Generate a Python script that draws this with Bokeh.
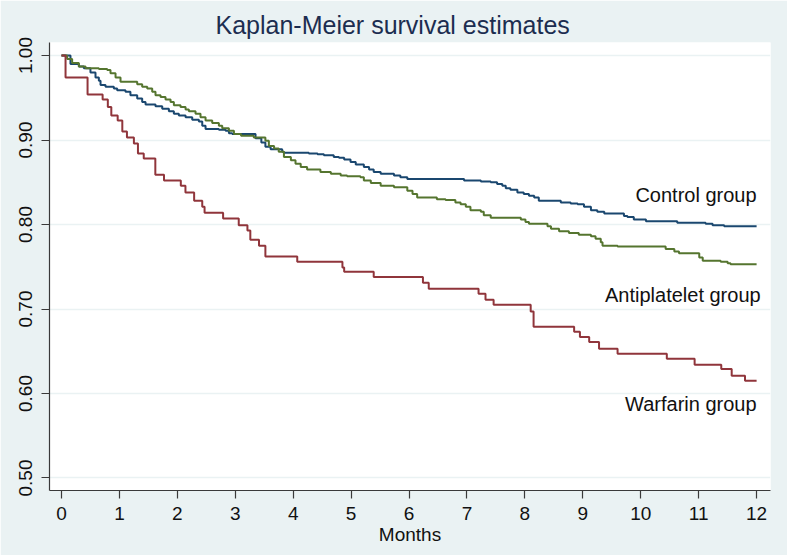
from bokeh.plotting import figure
from bokeh.models import FixedTicker, PrintfTickFormatter, Label
from bokeh.embed import file_html
from bokeh.resources import INLINE

# ---- data (Kaplan-Meier step estimates) ----
control_t = [0, 0.155, 0.30, 0.386, 0.50, 0.587, 0.645, 0.674, 0.76, 0.904,
             0.961, 1.105, 1.19, 1.307, 1.393, 1.451, 1.623, 1.739, 1.854, 1.94,
             2.026, 2.142, 2.257, 2.372, 2.43, 2.487, 2.717, 2.833, 2.89, 2.948,
             3.35, 3.45, 3.52, 3.61, 3.81, 3.84, 4.27, 4.42, 4.53, 4.70,
             4.79, 4.88, 4.99, 5.08, 5.22, 5.31, 5.39, 5.51, 5.74, 5.85,
             5.97, 6.95, 7.24, 7.41, 7.52, 7.61, 7.67, 7.75, 7.87, 7.98,
             8.07, 8.16, 8.24, 8.62, 8.79, 8.91, 9.02, 9.14, 9.25, 9.37,
             9.71, 9.77, 9.88, 10.09, 10.63, 11.12, 11.24, 11.44, 12.0]
control_s = [1.000, 0.990, 0.987, 0.985, 0.980, 0.974, 0.970, 0.965, 0.963, 0.961,
             0.959, 0.957, 0.953, 0.949, 0.945, 0.942, 0.940, 0.937, 0.934, 0.931,
             0.929, 0.927, 0.924, 0.922, 0.917, 0.913, 0.912, 0.911, 0.908, 0.907,
             0.902, 0.897, 0.892, 0.889, 0.886, 0.885, 0.884, 0.883, 0.882, 0.880,
             0.879, 0.877, 0.874, 0.871, 0.868, 0.865, 0.862, 0.860, 0.858, 0.856,
             0.854, 0.852, 0.851, 0.850, 0.848, 0.846, 0.843, 0.841, 0.838, 0.836,
             0.834, 0.832, 0.828, 0.826, 0.825, 0.824, 0.821, 0.817, 0.815, 0.813,
             0.810, 0.809, 0.806, 0.804, 0.802, 0.801, 0.799, 0.798, 0.798]

antiplatelet_t = [0, 0.098, 0.184, 0.30, 0.415, 0.645, 0.789, 0.846, 0.933, 1.019,
                  1.307, 1.393, 1.48, 1.566, 1.623, 1.71, 1.796, 1.883, 1.94, 2.055,
                  2.142, 2.199, 2.314, 2.40, 2.487, 2.602, 2.717, 2.775, 2.89, 2.977,
                  3.10, 3.32, 3.52, 3.58, 3.67, 3.75, 3.84, 3.96, 4.04, 4.13,
                  4.24, 4.47, 4.65, 4.82, 4.93, 5.16, 5.22, 5.34, 5.51, 5.74,
                  5.97, 6.06, 6.14, 6.48, 6.63, 6.80, 6.89, 6.98, 7.06, 7.24,
                  7.29, 7.41, 7.93, 8.01, 8.07, 8.39, 8.45, 8.59, 8.76, 8.93,
                  9.14, 9.22, 9.31, 9.34, 9.60, 10.43, 10.58, 10.66, 11.01, 11.07,
                  11.38, 11.50, 11.55, 12.0]
antiplatelet_s = [1.000, 0.996, 0.991, 0.987, 0.985, 0.984, 0.983, 0.979, 0.974, 0.969,
                  0.966, 0.963, 0.961, 0.957, 0.953, 0.951, 0.948, 0.945, 0.941, 0.939,
                  0.936, 0.934, 0.931, 0.927, 0.923, 0.920, 0.917, 0.914, 0.911, 0.907,
                  0.905, 0.903, 0.899, 0.893, 0.890, 0.886, 0.880, 0.876, 0.872, 0.868,
                  0.865, 0.862, 0.860, 0.858, 0.857, 0.856, 0.852, 0.849, 0.846, 0.844,
                  0.840, 0.836, 0.832, 0.830, 0.829, 0.826, 0.824, 0.821, 0.817, 0.815,
                  0.811, 0.808, 0.806, 0.803, 0.801, 0.798, 0.795, 0.792, 0.790, 0.788,
                  0.786, 0.783, 0.779, 0.775, 0.774, 0.771, 0.768, 0.766, 0.761, 0.757,
                  0.756, 0.754, 0.753, 0.753]

warfarin_t = [0, 0.07, 0.45, 0.71, 0.80, 0.86, 0.97, 1.05, 1.13, 1.25,
              1.32, 1.42, 1.62, 1.77, 2.06, 2.14, 2.29, 2.43, 2.47, 2.79,
              3.06, 3.21, 3.26, 3.41, 3.52, 4.07, 4.85, 4.88, 5.39, 6.24,
              6.34, 7.20, 7.32, 7.46, 8.10, 8.15, 8.85, 8.95, 9.11, 9.28,
              9.60, 10.45, 10.93, 11.39, 11.57, 11.80, 12.0]
warfarin_s = [1.000, 0.974, 0.954, 0.948, 0.939, 0.929, 0.923, 0.910, 0.903, 0.896,
              0.884, 0.878, 0.859, 0.852, 0.846, 0.838, 0.828, 0.821, 0.814, 0.807,
              0.799, 0.793, 0.782, 0.775, 0.762, 0.756, 0.749, 0.744, 0.738, 0.731,
              0.724, 0.718, 0.711, 0.705, 0.697, 0.679, 0.673, 0.667, 0.661, 0.653,
              0.647, 0.641, 0.634, 0.629, 0.621, 0.615, 0.615]

group_names = ["Control group", "Antiplatelet group", "Warfarin group"]
x_ticks = [0, 1, 2, 3, 4, 5, 6, 7, 8, 9, 10, 11, 12]
y_ticks = [0.5, 0.6, 0.7, 0.8, 0.9, 1.0]

assert len(control_t) == len(control_s)
assert len(antiplatelet_t) == len(antiplatelet_s)
assert len(warfarin_t) == len(warfarin_s)

# ---- styling ----
BG = "#eaf2f3"
FONT = "Liberation Sans"
colors = ["#1a476f", "#55752f", "#90353b"]

p = figure(width=787, height=555,
           x_range=(-0.207, 12.24), y_range=(0.4852, 1.0154),
           output_backend="svg", toolbar_location=None,
           min_border_left=49, min_border_right=17,
           min_border_top=42, min_border_bottom=65,
           background_fill_color="white", border_fill_color=BG)
p.outline_line_color = None

# title
p.title.text = "Kaplan-Meier survival estimates"
p.title.text_font = FONT
p.title.text_font_size = "25px"
p.title.text_font_style = "normal"
p.title.text_color = "#1c2d50"
p.title.align = "left"
p.title.offset = 166
p.title.standoff = 8

p.xgrid.visible = False
p.ygrid.grid_line_color = BG
p.ygrid.grid_line_width = 1.5
p.ygrid.ticker = FixedTicker(ticks=y_ticks)

for ax in (p.xaxis[0], p.yaxis[0]):
    ax.axis_line_color = "#3a3a3a"
    ax.axis_line_width = 1.2
    ax.major_tick_line_color = "#3a3a3a"
    ax.major_tick_line_width = 1.2
    ax.major_tick_out = 8
    ax.major_tick_in = 0
    ax.minor_tick_line_color = None
    ax.major_label_text_font = FONT
    ax.major_label_text_font_size = "19px"
    ax.major_label_text_color = "#111111"

p.xaxis.ticker = FixedTicker(ticks=x_ticks)
p.xaxis.major_label_standoff = 8
p.xaxis.axis_label = "Months"
p.xaxis.axis_label_text_font = FONT
p.xaxis.axis_label_text_font_size = "19px"
p.xaxis.axis_label_text_font_style = "normal"
p.xaxis.axis_label_text_color = "#111111"
p.xaxis.axis_label_standoff = 1

p.yaxis.ticker = FixedTicker(ticks=y_ticks)
p.yaxis.formatter = PrintfTickFormatter(format="%.2f")
p.yaxis.major_label_orientation = "vertical"
p.yaxis.major_label_standoff = 9

series = [(control_t, control_s), (antiplatelet_t, antiplatelet_s), (warfarin_t, warfarin_s)]
for (t, s), c in zip(series, colors):
    p.step(t, s, mode="after", line_color=c, line_width=2)

# group labels at the right end of the curves
label_pos = [(12.0, 0.8355), (12.07, 0.717), (12.0, 0.587)]
for name, (lx, ly) in zip(group_names, label_pos):
    p.add_layout(Label(x=lx, y=ly, text=name, text_align="right",
                       text_baseline="middle", text_font=FONT,
                       text_font_size="20px", text_color="#111111"))

open("out.html", "w").write(file_html(p, INLINE))
